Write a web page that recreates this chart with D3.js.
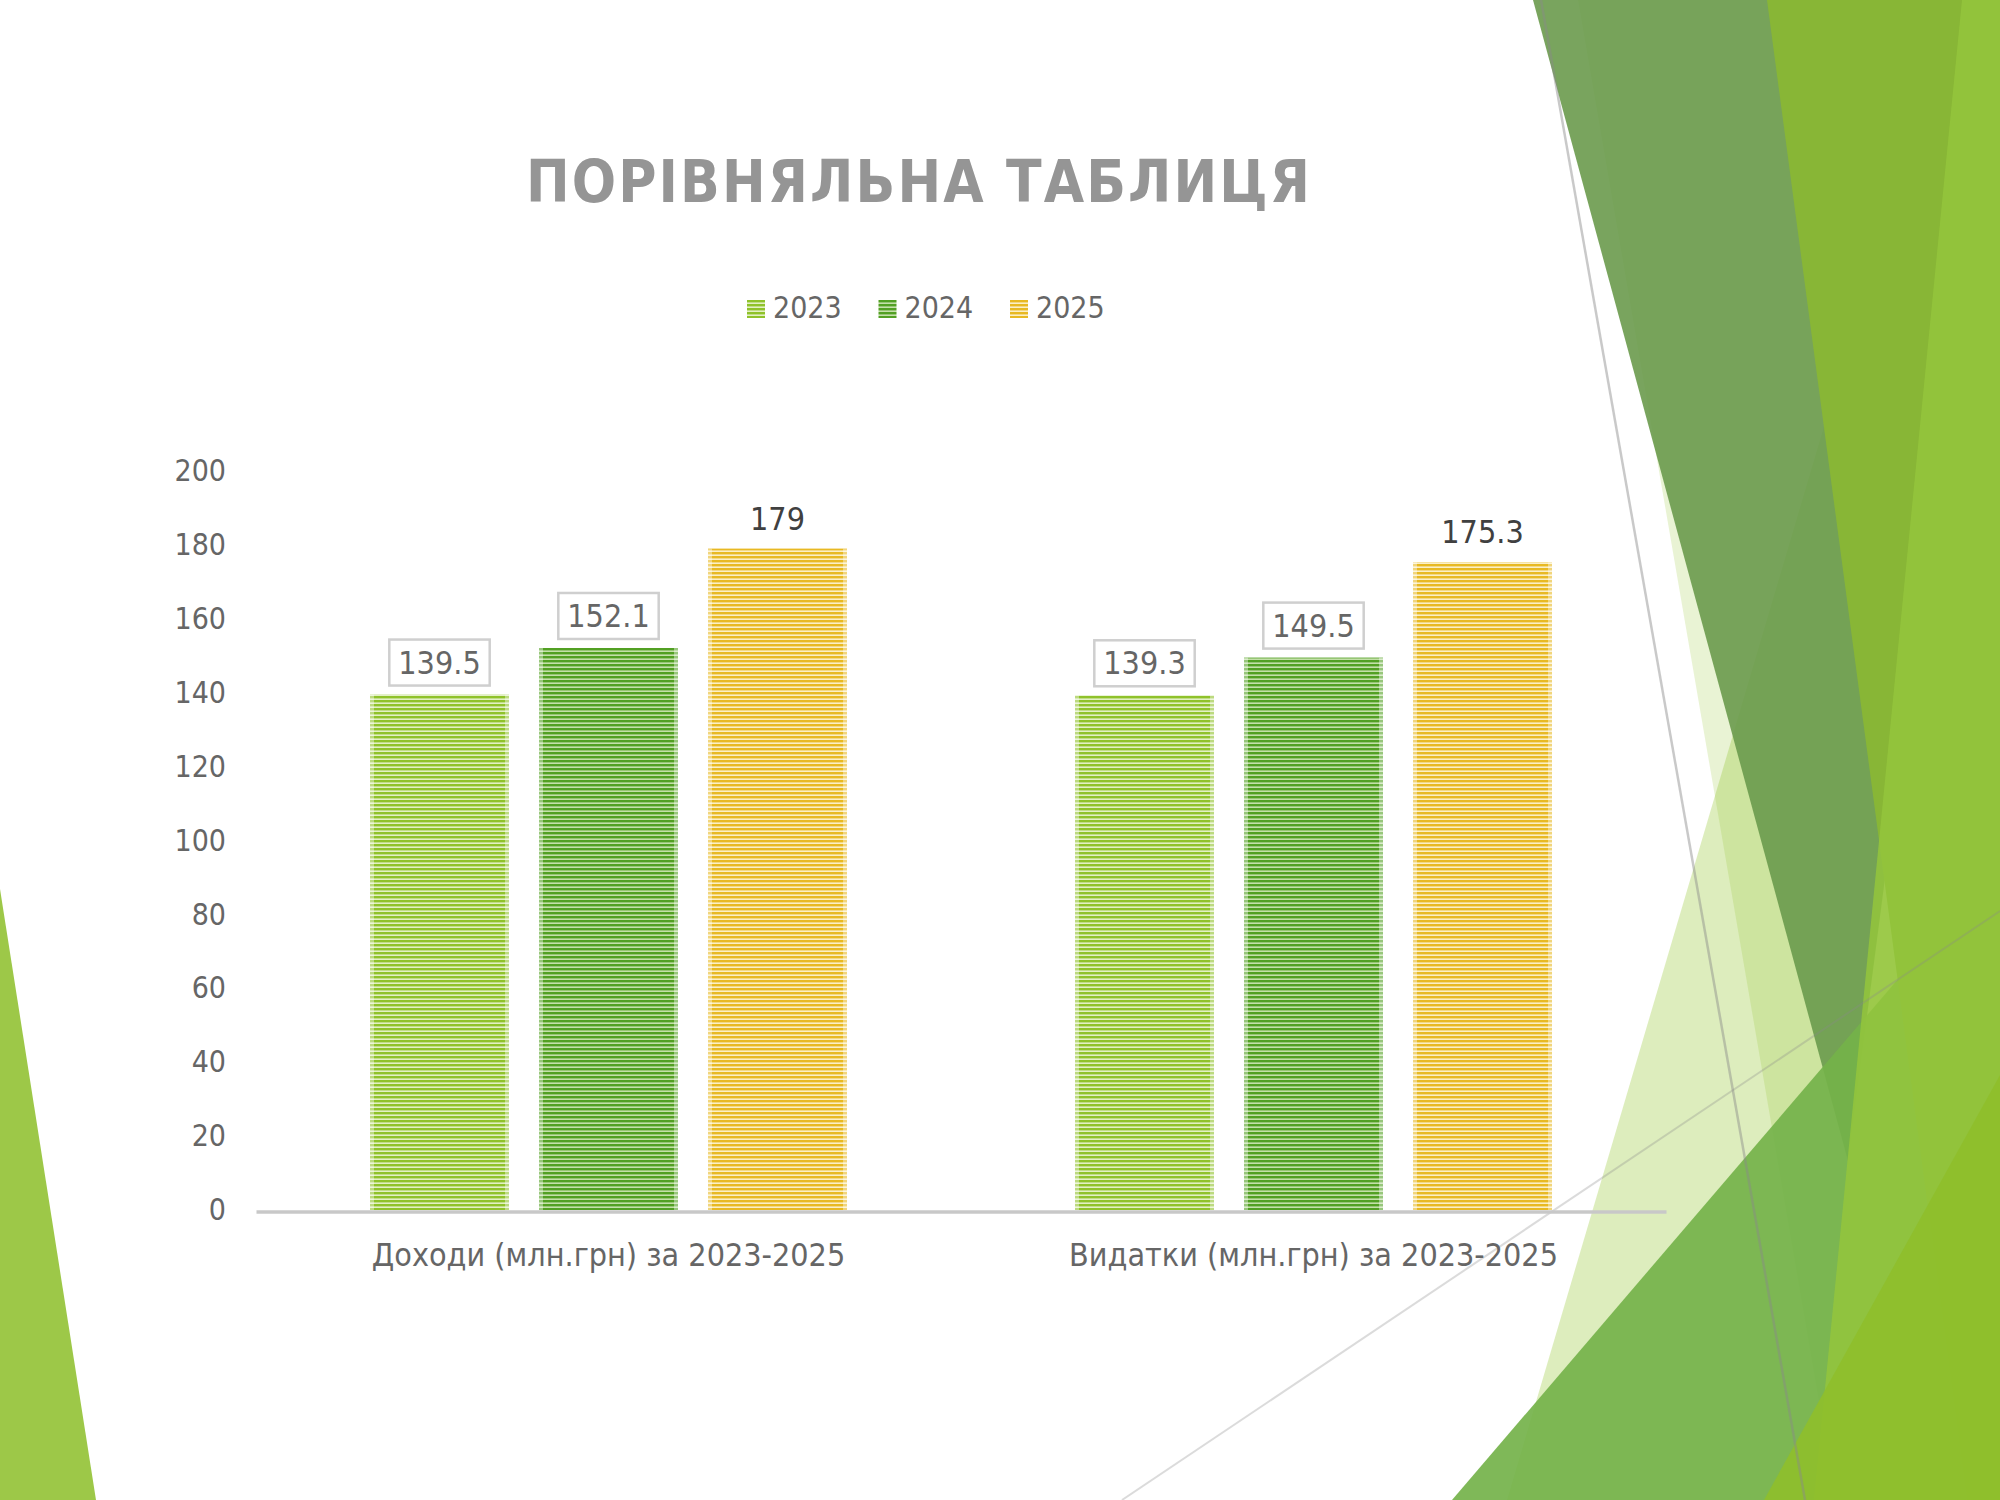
<!DOCTYPE html>
<html>
<head>
<meta charset="utf-8">
<script src="https://cdn.jsdelivr.net/npm/d3@7"></script>
<style>
body { margin: 0; background: #fff; }
svg { display: block; }
</style>
</head>
<body>
<svg id="chart" width="2000" height="1500"></svg>
<script>
"use strict";
// chart values
var categories = ["Доходи (млн.грн) за 2023-2025", "Видатки (млн.грн) за 2023-2025"];
var years = ["2023", "2024", "2025"];
var values2023 = [139.5, 139.3];
var values2024 = [152.1, 149.5];
var values2025 = [179, 175.3];
var yTicks = [0, 20, 40, 60, 80, 100, 120, 140, 160, 180, 200];
var titleText = "ПОРІВНЯЛЬНА ТАБЛИЦЯ";

var seriesValues = [values2023, values2024, values2025];
var seriesColors = ["#8fc22a", "#52a023", "#e8b923"];
var stripeColors = ["#e2f0c4", "#c4e0aa", "#fbefc6"];

var fontFamily = "'DejaVu Sans Condensed', 'DejaVu Sans', sans-serif";

// slide decoration (theme triangles), not chart data
var decor = [
	{pts: [[1950, 0], [1507, 1500], [2000, 1500], [2000, 0]], fill: "#90c226", op: 0.3},
	{pts: [[1578, 0], [1836, 1500], [2000, 1500], [2000, 0]], fill: "#90c226", op: 0.2},
	{pts: [[1533, 0], [2000, 0], [1848, 1161]], fill: "#6a9a4c", op: 0.9},
	{pts: [[1452, 1500], [2000, 860], [2000, 1500]], fill: "#74b24a", op: 0.92},
	{pts: [[1767, 0], [2000, 0], [2000, 1500], [1967, 1500]], fill: "#88b636", op: 1},
	{pts: [[1962, 0], [2000, 0], [2000, 1500], [1814, 1500]], fill: "#94c53c", op: 0.85},
	{pts: [[1764, 1500], [2000, 1075], [2000, 1500]], fill: "#8fbf2b", op: 0.9},
	{pts: [[0, 889], [96, 1500], [0, 1500]], fill: "#9dc848", op: 1}
];
var decorLines = [
	{a: [1541, 0], b: [1805, 1500], w: 2.5, op: 0.45},
	{a: [1122, 1500], b: [2000, 911], w: 2, op: 0.3}
];

var svg = d3.select("#chart");
var defs = svg.append("defs");

svg.selectAll(".decor").data(decor).enter().append("polygon")
	.attr("class", "decor")
	.attr("points", function(d) { return d.pts.map(function(p) { return p.join(","); }).join(" "); })
	.style("fill", function(d) { return d.fill; })
	.style("opacity", function(d) { return d.op; });

svg.selectAll(".decorLine").data(decorLines).enter().append("line")
	.attr("class", "decorLine")
	.attr("x1", function(d) { return d.a[0]; })
	.attr("y1", function(d) { return d.a[1]; })
	.attr("x2", function(d) { return d.b[0]; })
	.attr("y2", function(d) { return d.b[1]; })
	.style("stroke", "#8a8a8a")
	.style("stroke-width", function(d) { return d.w; })
	.style("opacity", function(d) { return d.op; });

// striped fills
years.forEach(function(yr, i) {
	var p = defs.append("pattern")
		.attr("id", "stripe" + i)
		.attr("patternUnits", "userSpaceOnUse")
		.attr("width", 20)
		.attr("height", 4);
	p.append("rect").attr("width", 20).attr("height", 4).style("fill", seriesColors[i]);
	p.append("rect").attr("y", 2.4).attr("width", 20).attr("height", 1.6).style("fill", stripeColors[i]);
});

// scales
var plotLeft = 256, plotRight = 1666, plotTop = 471, plotBottom = 1210;
var x0 = d3.scaleBand().domain(categories).range([plotLeft, plotRight]);
var x1 = d3.scaleBand().domain(years).range([0, x0.bandwidth()])
	.paddingInner(0.1775).paddingOuter(0.6746);
var y = d3.scaleLinear().domain([0, 200]).range([plotBottom, plotTop]);

// title
var title = svg.append("text")
	.attr("y", 202)
	.style("font-family", fontFamily)
	.style("font-weight", "bold")
	.style("font-size", "58px")
	.style("fill", "#959595")
	.text(titleText);
var rawW = title.node().getComputedTextLength();
var spacing = (784 - rawW) / (titleText.length - 1);
title.style("letter-spacing", spacing + "px").attr("x", 918 - 392);

// legend
var legend = svg.append("g").attr("transform", "translate(747,300)");
var item = legend.selectAll(".item").data(years).enter().append("g")
	.attr("class", "item")
	.attr("transform", function(d, i) { return "translate(" + (i * 131.5) + ",0)"; });
item.append("rect")
	.attr("width", 18).attr("height", 18)
	.style("fill", function(d, i) { return "url(#stripe" + i + ")"; });
item.append("text")
	.attr("x", 26).attr("y", 18)
	.style("font-family", fontFamily)
	.style("font-size", "30px")
	.style("fill", "#666")
	.text(function(d) { return d; });

// y axis
var yAxis = svg.append("g")
	.attr("transform", "translate(" + plotLeft + ",0)")
	.call(d3.axisLeft(y).tickValues(yTicks).tickSize(0).tickPadding(30));
yAxis.select(".domain").remove();
yAxis.selectAll("text")
	.style("font-family", fontFamily)
	.style("font-size", "30px")
	.style("fill", "#666");

// bars
var groups = svg.selectAll(".grp").data(categories).enter().append("g")
	.attr("class", "grp")
	.attr("transform", function(d) { return "translate(" + x0(d) + ",0)"; });

years.forEach(function(yr, si) {
	var vals = seriesValues[si];
	groups.append("rect")
		.attr("x", x1(yr))
		.attr("y", function(d, ci) { return y(vals[ci]); })
		.attr("width", x1.bandwidth())
		.attr("height", function(d, ci) { return plotBottom - y(vals[ci]); })
		.style("fill", "url(#stripe" + si + ")");
	// soft light edges on both sides
	[0, x1.bandwidth() - 4].forEach(function(off) {
		groups.append("rect")
			.attr("x", x1(yr) + off)
			.attr("y", function(d, ci) { return y(vals[ci]); })
			.attr("width", 4)
			.attr("height", function(d, ci) { return plotBottom - y(vals[ci]); })
			.style("fill", "#fff")
			.style("opacity", 0.4);
	});
});

// x axis
var xAxis = svg.append("g")
	.attr("transform", "translate(0," + (plotBottom + 1.5) + ")")
	.call(d3.axisBottom(x0).tickSize(0).tickSizeOuter(0).tickPadding(32));
xAxis.select(".domain").style("stroke", "#c8c8c8").style("stroke-width", 3.5);
xAxis.selectAll("text")
	.style("font-family", fontFamily)
	.style("font-size", "32px")
	.style("fill", "#666");

// data labels
years.forEach(function(yr, si) {
	var vals = seriesValues[si];
	groups.each(function(cat, ci) {
		var g = d3.select(this);
		var cx = x1(yr) + x1.bandwidth() / 2;
		var v = vals[ci];
		if (si < 2) {
			var boxBottom = y(v) - 9;
			var box = g.append("rect")
				.attr("y", boxBottom - 46)
				.attr("height", 46)
				.style("fill", "#fff")
				.style("stroke", "#cfcfcf")
				.style("stroke-width", 2.5);
			var t = g.append("text")
				.attr("x", cx)
				.attr("y", boxBottom - 12)
				.attr("text-anchor", "middle")
				.style("font-family", fontFamily)
				.style("font-size", "32px")
				.style("fill", "#666")
				.text(v);
			var w = t.node().getComputedTextLength() + 18;
			box.attr("x", cx - w / 2).attr("width", w);
		} else {
			g.append("text")
				.attr("x", cx)
				.attr("y", y(v) - 19)
				.attr("text-anchor", "middle")
				.style("font-family", fontFamily)
				.style("font-size", "32px")
				.style("fill", "#404040")
				.text(v);
		}
	});
});
</script>
</body>
</html>
